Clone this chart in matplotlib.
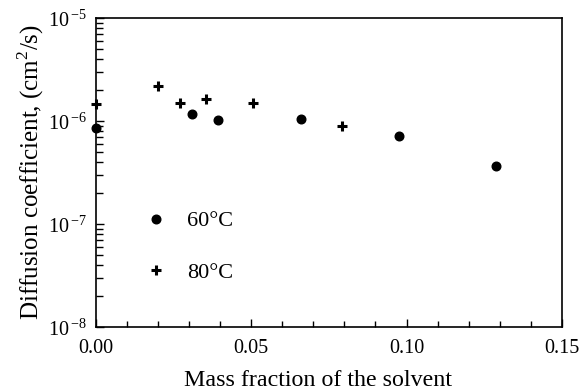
import matplotlib
matplotlib.use('Agg')
import matplotlib.pyplot as plt
from matplotlib.ticker import LogLocator, NullFormatter, MultipleLocator

plt.rcParams['font.family'] = ['Liberation Serif', 'DejaVu Serif']
plt.rcParams['mathtext.fontset'] = 'custom'
plt.rcParams['mathtext.rm'] = 'Liberation Serif'

# 60 °C data
x_60 = [0.0, 0.0308, 0.0392, 0.066, 0.0976, 0.1288]
d_60 = [8.6e-7, 1.16e-6, 1.02e-6, 1.04e-6, 7.2e-7, 3.66e-7]

# 80 °C data
x_80 = [0.0, 0.0201, 0.027, 0.0353, 0.0506, 0.0793]
d_80 = [1.45e-6, 2.19e-6, 1.51e-6, 1.65e-6, 1.51e-6, 8.9e-7]

x_ticks = [0.0, 0.05, 0.10, 0.15]
x_labels = ['0.00', '0.05', '0.10', '0.15']
y_ticks = [1e-8, 1e-7, 1e-6, 1e-5]
y_labels = [r'10$^{\,\mathregular{-8}}$', r'10$^{\,\mathregular{-7}}$',
            r'10$^{\,\mathregular{-6}}$', r'10$^{\,\mathregular{-5}}$']

fig = plt.figure(figsize=(5.81, 3.91), dpi=100)
ax = fig.add_axes([0.165, 0.164, 0.802, 0.790])

ax.plot(x_60, d_60, 'o', color='black', markersize=6.2, label='60°C', clip_on=False)
ax.plot(x_80, d_80, '+', color='black', markersize=7, markeredgewidth=2.2,
        label='80°C', clip_on=False)

ax.set_yscale('log')
ax.set_xlim(0, 0.15)
ax.set_ylim(1e-8, 1e-5)

ax.set_xticks(x_ticks)
ax.set_xticklabels(x_labels)
ax.xaxis.set_minor_locator(MultipleLocator(0.01))
ax.set_yticks(y_ticks)
ax.set_yticklabels(y_labels)
ax.yaxis.set_minor_locator(LogLocator(base=10, subs=range(2, 10)))
ax.yaxis.set_minor_formatter(NullFormatter())

ax.tick_params(which='both', direction='in', top=False, right=False,
               labelsize=14.5, width=1, color='black')
ax.tick_params(which='major', length=6)
ax.tick_params(axis='x', which='major', pad=9)
ax.tick_params(axis='y', which='major', pad=6)
ax.tick_params(which='minor', length=4.5)
ax.tick_params(axis='y', which='minor', length=5)

for s in ax.spines.values():
    s.set_linewidth(1.2)

ax.set_xlabel('Mass fraction of the solvent', fontsize=17.3)
ax.xaxis.set_label_coords(0.476, -0.139)
ax.set_ylabel('Diffusion coefficient, (cm$^{2}$/s)', fontsize=18, labelpad=2)

ax.legend(loc='center left', bbox_to_anchor=(0.108, 0.259), frameon=False,
          fontsize=16, handlelength=0.9, handletextpad=0.95, labelspacing=1.4,
          borderpad=0, borderaxespad=0, numpoints=1)

fig.savefig('out.png', dpi=100)
